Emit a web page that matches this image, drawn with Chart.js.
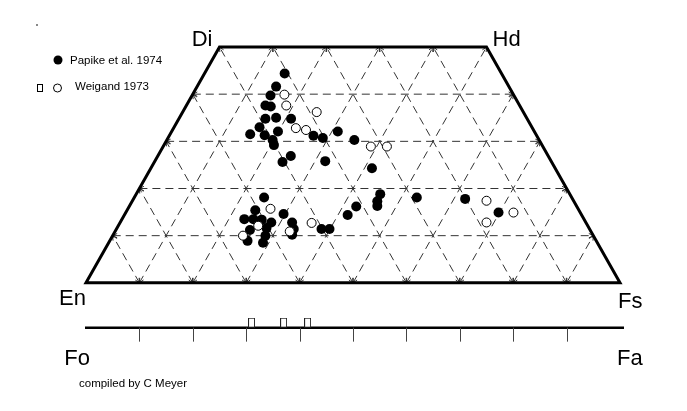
<!DOCTYPE html>
<html>
<head>
<meta charset="utf-8">
<script src="https://cdn.jsdelivr.net/npm/chart.js@4.4.1/dist/chart.umd.min.js"></script>
<style>
  html, body { margin: 0; padding: 0; background: #fff; }
  #wrap { width: 687px; height: 411px; }
</style>
</head>
<body>
<div id="wrap"><canvas id="quadChart" width="687" height="411"></canvas></div>
<script>
// pyroxene analyses, mol% Wo and Fs (En = 100 - Wo - Fs)
const papikeWo = [44.4, 41.6, 39.7, 37.6, 37.4, 34.8, 35.0, 34.8, 33.0, 31.5, 31.3, 32.1, 30.3, 29.2, 31.2, 30.7,
                  32.1, 30.3, 26.9, 25.6, 25.8, 24.3, 18.1, 15.4, 14.6, 13.5, 13.5, 13.4, 12.8, 12.8, 11.2, 11.6,
                  11.4, 8.9, 8.5, 10.0, 10.2, 11.4, 11.4, 14.4, 16.2, 18.8, 17.3, 16.3, 18.1, 17.8, 14.9];
const papikeFs = [15.0, 14.8, 14.7, 14.8, 15.9, 16.2, 18.1, 21.0, 16.0, 15.0, 17.8, 19.9, 19.8, 20.6, 27.0, 29.0,
                  31.1, 35.1, 24.9, 24.0, 31.9, 41.4, 24.3, 24.0, 29.7, 22.9, 24.6, 26.2, 28.3, 32.2, 25.1, 28.0,
                  33.2, 25.8, 28.9, 28.6, 33.5, 38.4, 39.9, 41.8, 42.5, 45.7, 45.9, 46.4, 52.9, 62.1, 69.8];
const weigandWo = [39.9, 37.6, 36.2, 32.8, 32.4, 28.9, 28.9, 15.7, 12.1, 10.0, 10.9, 12.7, 17.4, 14.9, 12.8];
const weigandFs = [17.2, 18.7, 25.1, 22.9, 25.0, 38.9, 41.9, 26.7, 26.2, 24.4, 32.7, 35.9, 66.3, 72.6, 68.6];
// olivine analyses, mol% Fa
const olivineFa = [31, 37, 41.5];

const gridSteps = [10, 20, 30, 40, 50, 60, 70, 80, 90];
const cornerLabels = ['En', 'Fs', 'Hd', 'Di'];
const olivineLabels = ['Fo', 'Fa'];
const legendLabels = ['Papike et al. 1974', 'Weigand 1973'];
const OLIVINE_ROW = -9.5;   // olivine bar sits below the quadrilateral

// ternary -> plot coords
const toXY = (wo, fs) => ({ x: fs + wo / 2, y: wo });

// tall little box for the olivine marks (box above the centre)
const boxMark = document.createElement('canvas');
boxMark.width = 7;
boxMark.height = 20;
const bc = boxMark.getContext('2d');
bc.fillStyle = '#fff';
bc.fillRect(0.5, 0.5, 6, 9);
bc.strokeStyle = '#222';
bc.lineWidth = 1;
bc.strokeRect(0.5, 0.5, 6, 9);

function arrowHead(ctx, sx, sy, ex, ey) {
    const a = Math.atan2(ey - sy, ex - sx);
    const len = 5;
    ctx.beginPath();
    ctx.moveTo(ex - len * Math.cos(a - 0.45), ey - len * Math.sin(a - 0.45));
    ctx.lineTo(ex, ey);
    ctx.lineTo(ex - len * Math.cos(a + 0.45), ey - len * Math.sin(a + 0.45));
    ctx.stroke();
}

const quadPlugin = {
    id: 'quad',
    beforeDatasetsDraw(chart) {
        const { ctx, scales: { x, y } } = chart;
        const P = (wo, fs) => [x.getPixelForValue(fs + wo / 2), y.getPixelForValue(wo)];
        ctx.save();

        // dashed triangular grid
        const segs = [];
        gridSteps.forEach(v => {
            if (v < 50) segs.push([P(v, 0), P(v, 100 - v)]);
            const top = Math.min(50, 100 - v);
            segs.push([P(0, v), P(top, v)]);                 // constant Fs
            segs.push([P(0, 100 - v), P(top, 100 - v - top)]); // constant En
        });
        ctx.strokeStyle = '#333';
        ctx.lineWidth = 1;
        ctx.setLineDash([8, 5]);
        segs.forEach(([a, b]) => {
            ctx.beginPath();
            ctx.moveTo(a[0], a[1]);
            ctx.lineTo(b[0], b[1]);
            ctx.stroke();
        });
        ctx.setLineDash([]);
        segs.forEach(([a, b]) => {
            arrowHead(ctx, a[0], a[1], b[0], b[1]);
            arrowHead(ctx, b[0], b[1], a[0], a[1]);
        });

        // outline of the quadrilateral
        const c = [P(0, 0), P(0, 100), P(50, 50), P(50, 0)];
        ctx.strokeStyle = '#000';
        ctx.lineWidth = 3;
        ctx.lineJoin = 'miter';
        ctx.beginPath();
        ctx.moveTo(c[0][0], c[0][1]);
        c.slice(1).forEach(p => ctx.lineTo(p[0], p[1]));
        ctx.closePath();
        ctx.stroke();

        // olivine bar
        const oy = y.getPixelForValue(OLIVINE_ROW);
        ctx.lineWidth = 2.5;
        ctx.beginPath();
        ctx.moveTo(x.getPixelForValue(0) - 1, oy);
        ctx.lineTo(x.getPixelForValue(100) + 4, oy);
        ctx.stroke();
        ctx.lineWidth = 1;
        ctx.strokeStyle = '#444';
        gridSteps.forEach(v => {
            const px = Math.round(x.getPixelForValue(v)) + 0.5;
            ctx.beginPath();
            ctx.moveTo(px, oy);
            ctx.lineTo(px, oy + 14);
            ctx.stroke();
        });
        ctx.restore();
    },
    afterDraw(chart) {
        const { ctx, scales: { x, y } } = chart;
        const P = (wo, fs) => [x.getPixelForValue(fs + wo / 2), y.getPixelForValue(wo)];
        ctx.save();
        ctx.fillStyle = '#000';
        ctx.font = '22px "Liberation Sans", Arial, sans-serif';
        ctx.textBaseline = 'alphabetic';
        const en = P(0, 0), fs = P(0, 100), hd = P(50, 50), di = P(50, 0);
        ctx.textAlign = 'right';
        ctx.fillText(cornerLabels[3], di[0] - 7, di[1] - 1);
        ctx.fillText(cornerLabels[0], en[0], en[1] + 22);
        ctx.fillText(olivineLabels[0], en[0] + 4, 365);
        ctx.textAlign = 'left';
        ctx.fillText(cornerLabels[2], hd[0] + 6, hd[1] - 1);
        ctx.fillText(cornerLabels[1], fs[0] - 2, fs[1] + 25);
        ctx.fillText(olivineLabels[1], fs[0] - 3, 365);

        // legend
        ctx.font = '11.5px "Liberation Sans", Arial, sans-serif';
        ctx.beginPath();
        ctx.arc(58, 60, 4.5, 0, Math.PI * 2);
        ctx.fill();
        ctx.fillText(legendLabels[0], 70, 64);
        ctx.fillText(legendLabels[1], 75, 90);
        ctx.strokeStyle = '#000';
        ctx.lineWidth = 1;
        ctx.strokeRect(37.5, 84.5, 5, 7);
        ctx.beginPath();
        ctx.arc(57.5, 88, 4, 0, Math.PI * 2);
        ctx.stroke();

        ctx.fillText('compiled by C Meyer', 79, 387);
        ctx.fillStyle = '#888';
        ctx.fillRect(36, 24, 2, 2);
        ctx.restore();
    }
};

const ctx = document.getElementById('quadChart').getContext('2d');
new Chart(ctx, {
    type: 'scatter',
    data: {
        datasets: [{
            label: legendLabels[1],
            data: weigandWo.map((wo, i) => toXY(wo, weigandFs[i])),
            backgroundColor: '#fff',
            borderColor: '#000',
            borderWidth: 1,
            pointRadius: 4.5,
            clip: false
        }, {
            label: legendLabels[0],
            data: papikeWo.map((wo, i) => toXY(wo, papikeFs[i])),
            backgroundColor: '#000',
            borderColor: '#000',
            borderWidth: 0,
            pointRadius: 5,
            clip: false
        }, {
            label: 'olivine',
            data: olivineFa.map(fa => ({ x: fa, y: OLIVINE_ROW })),
            pointStyle: boxMark,
            pointRadius: 4,
            clip: false
        }]
    },
    options: {
        responsive: false,
        animation: false,
        // y runs from -10 (olivine bar) to 50 (Di-Hd join), 4.72 px per unit
        layout: { padding: { left: 86, right: 67, top: 47, bottom: 81 } },
        plugins: {
            legend: { display: false },
            tooltip: { enabled: false }
        },
        scales: {
            x: { type: 'linear', min: 0, max: 100, display: false },
            y: { type: 'linear', min: -10, max: 50, display: false }
        }
    },
    plugins: [quadPlugin]
});
</script>
</body>
</html>
